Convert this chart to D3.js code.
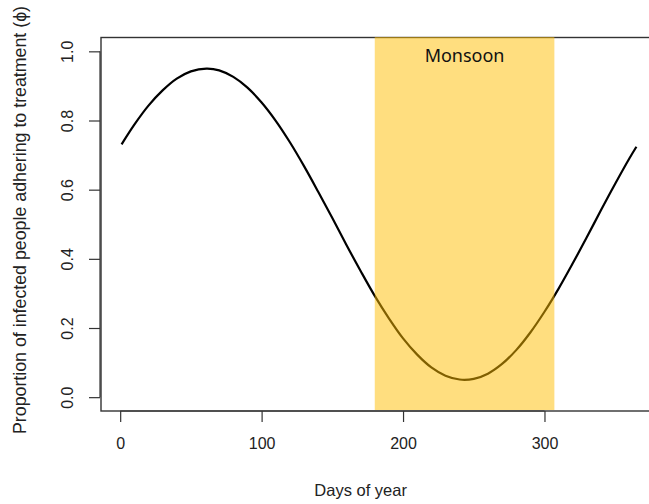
<!DOCTYPE html>
<html>
<head>
<meta charset="utf-8">
<script src="https://cdn.jsdelivr.net/npm/d3@7"></script>
<style>
  html, body { margin: 0; padding: 0; background: #fff; }
  svg { display: block; }
  text { font-family: "Liberation Sans", Arial, sans-serif; fill: #222; }
</style>
</head>
<body>
<svg id="chart" width="649" height="504"></svg>
<script>
// Day of year and proportion adhering to treatment
const days = [1, 10, 20, 30, 40, 50, 61, 70, 80, 90, 100, 110, 120, 130, 140, 150,
  160, 170, 180, 190, 200, 210, 220, 230, 240, 250, 260, 270, 280, 290, 300,
  310, 320, 330, 340, 350, 360, 365];
const phi = [0.731, 0.788, 0.843, 0.887, 0.921, 0.942, 0.950, 0.945, 0.926, 0.895,
  0.852, 0.799, 0.737, 0.668, 0.594, 0.518, 0.440, 0.365, 0.293, 0.228, 0.170,
  0.123, 0.086, 0.062, 0.051, 0.053, 0.068, 0.096, 0.136, 0.187, 0.247, 0.314,
  0.387, 0.463, 0.541, 0.617, 0.690, 0.724];

const monsoon = [180, 307];
const monsoonLabel = "Monsoon";

const xTicks = [0, 100, 200, 300];
const yTicks = [0.0, 0.2, 0.4, 0.6, 0.8, 1.0];

const xTitle = "Days of year";
const yTitle = "Proportion of infected people adhering to treatment (\u03d5)";

const svg = d3.select("#chart");

// Plot region: R-style 4% padding around the data limits
const xPad = (d3.max(days) - d3.min(days)) * 0.04;
const xDom = [d3.min(days) - xPad, d3.max(days) + xPad];
const yDom = [-0.04, 1.04];

const box = { left: 101, right: 657, top: 37.5, bottom: 411 };

const x = d3.scaleLinear().domain(xDom).range([box.left, box.right]);
const y = d3.scaleLinear().domain(yDom).range([box.bottom, box.top]);

// Curve
const line = d3.line()
  .x((d, i) => x(days[i]))
  .y(d => y(d))
  .curve(d3.curveCatmullRom.alpha(0.5));

svg.append("path")
  .datum(phi)
  .attr("d", line)
  .attr("fill", "none")
  .attr("stroke", "#000")
  .attr("stroke-width", 2.2)
  .attr("stroke-linejoin", "round");

// Plot frame
svg.append("rect")
  .attr("x", box.left)
  .attr("y", box.top)
  .attr("width", box.right - box.left)
  .attr("height", box.bottom - box.top)
  .attr("fill", "none")
  .attr("stroke", "#333")
  .attr("stroke-width", 1.4);

// Monsoon season band, translucent over the curve
svg.append("rect")
  .attr("x", x(monsoon[0]))
  .attr("y", y(yDom[1]) - 0.5)
  .attr("width", x(monsoon[1]) - x(monsoon[0]))
  .attr("height", y(yDom[0]) - y(yDom[1]) - 0.5)
  .attr("fill", "rgba(255,190,0,0.5)");

svg.append("text")
  .attr("x", x((monsoon[0] + monsoon[1]) / 2))
  .attr("y", 62)
  .attr("text-anchor", "middle")
  .style("font-family", "'Noto Sans', 'Open Sans', sans-serif")
  .style("font-size", "18px")
  .style("fill", "#111")
  .text(monsoonLabel);

// Axes
const xAxis = d3.axisBottom(x).tickValues(xTicks).tickFormat(d3.format("d"))
  .tickSize(11).tickPadding(16);
const gx = svg.append("g").attr("transform", `translate(0,${box.bottom})`).call(xAxis);
gx.select(".domain").attr("d", `M${x(0)},0H${x(300)}`).attr("stroke", "#333").attr("stroke-width", 1.2);
gx.selectAll(".tick line").attr("stroke", "#333").attr("stroke-width", 1.2);
gx.selectAll(".tick text").style("font-size", "16px").style("font-family", "'Liberation Sans', Arial, sans-serif").attr("fill", "#222");

const yAxis = d3.axisLeft(y).tickValues(yTicks).tickFormat(d3.format(".1f"))
  .tickSize(11);
const gy = svg.append("g").attr("transform", `translate(${box.left - 1},0)`).call(yAxis);
gy.select(".domain").attr("d", `M0,${y(0)}V${y(1)}`).attr("stroke", "#333").attr("stroke-width", 1.2);
gy.selectAll(".tick line").attr("stroke", "#333").attr("stroke-width", 1.2);
gy.selectAll(".tick text")
  .attr("x", null).attr("dy", null)
  .attr("transform", "translate(-33,0) rotate(-90)")
  .attr("text-anchor", "middle")
  .attr("dominant-baseline", "central")
  .style("font-size", "16px")
  .style("font-family", "'Liberation Sans', Arial, sans-serif")
  .attr("fill", "#222");

// Axis titles
svg.append("text")
  .attr("x", x(170))
  .attr("y", 496)
  .attr("text-anchor", "middle")
  .style("font-size", "16.5px")
  .text(xTitle);

svg.append("text")
  .attr("transform", `translate(26,220) rotate(-90)`)
  .attr("text-anchor", "middle")
  .style("font-size", "17.8px")
  .text(yTitle);
</script>
</body>
</html>
